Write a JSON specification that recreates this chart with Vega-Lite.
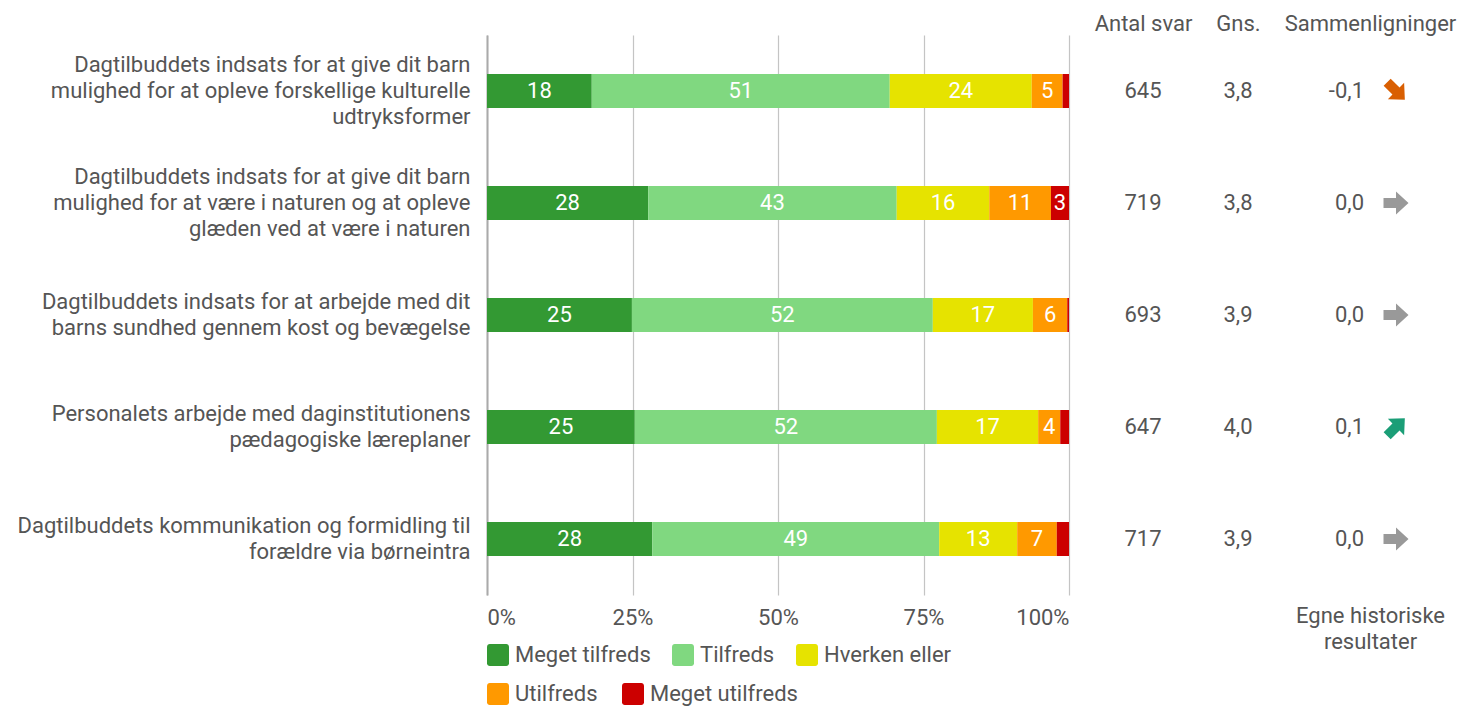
{
  "$schema": "https://vega.github.io/schema/vega-lite/v6.json",
  "padding": {"left": 5, "top": 12, "right": 5, "bottom": 5},
  "background": "white",
  "config": {
    "font": "Roboto",
    "view": {"stroke": null},
    "locale": {"number": {"decimal": ",", "thousands": ".", "grouping": [3], "currency": ["", " kr."], "minus": "-"}}
  },
  "datasets": {
    "bars": [
      {"item": "Dagtilbuddets indsats for at give dit barn|mulighed for at opleve forskellige kulturelle|udtryksformer", "cat": "Meget tilfreds", "rank": 1, "value": 18.0},
      {"item": "Dagtilbuddets indsats for at give dit barn|mulighed for at opleve forskellige kulturelle|udtryksformer", "cat": "Tilfreds", "rank": 2, "value": 51.2},
      {"item": "Dagtilbuddets indsats for at give dit barn|mulighed for at opleve forskellige kulturelle|udtryksformer", "cat": "Hverken eller", "rank": 3, "value": 24.4},
      {"item": "Dagtilbuddets indsats for at give dit barn|mulighed for at opleve forskellige kulturelle|udtryksformer", "cat": "Utilfreds", "rank": 4, "value": 5.3},
      {"item": "Dagtilbuddets indsats for at give dit barn|mulighed for at opleve forskellige kulturelle|udtryksformer", "cat": "Meget utilfreds", "rank": 5, "value": 1.1},
      {"item": "Dagtilbuddets indsats for at give dit barn|mulighed for at være i naturen og at opleve|glæden ved at være i naturen", "cat": "Meget tilfreds", "rank": 1, "value": 27.7},
      {"item": "Dagtilbuddets indsats for at give dit barn|mulighed for at være i naturen og at opleve|glæden ved at være i naturen", "cat": "Tilfreds", "rank": 2, "value": 42.7},
      {"item": "Dagtilbuddets indsats for at give dit barn|mulighed for at være i naturen og at opleve|glæden ved at være i naturen", "cat": "Hverken eller", "rank": 3, "value": 15.9},
      {"item": "Dagtilbuddets indsats for at give dit barn|mulighed for at være i naturen og at opleve|glæden ved at være i naturen", "cat": "Utilfreds", "rank": 4, "value": 10.6},
      {"item": "Dagtilbuddets indsats for at give dit barn|mulighed for at være i naturen og at opleve|glæden ved at være i naturen", "cat": "Meget utilfreds", "rank": 5, "value": 3.1},
      {"item": "Dagtilbuddets indsats for at arbejde med dit|barns sundhed gennem kost og bevægelse", "cat": "Meget tilfreds", "rank": 1, "value": 24.9},
      {"item": "Dagtilbuddets indsats for at arbejde med dit|barns sundhed gennem kost og bevægelse", "cat": "Tilfreds", "rank": 2, "value": 51.7},
      {"item": "Dagtilbuddets indsats for at arbejde med dit|barns sundhed gennem kost og bevægelse", "cat": "Hverken eller", "rank": 3, "value": 17.2},
      {"item": "Dagtilbuddets indsats for at arbejde med dit|barns sundhed gennem kost og bevægelse", "cat": "Utilfreds", "rank": 4, "value": 5.9},
      {"item": "Dagtilbuddets indsats for at arbejde med dit|barns sundhed gennem kost og bevægelse", "cat": "Meget utilfreds", "rank": 5, "value": 0.3},
      {"item": "Personalets arbejde med daginstitutionens|pædagogiske læreplaner", "cat": "Meget tilfreds", "rank": 1, "value": 25.4},
      {"item": "Personalets arbejde med daginstitutionens|pædagogiske læreplaner", "cat": "Tilfreds", "rank": 2, "value": 51.9},
      {"item": "Personalets arbejde med daginstitutionens|pædagogiske læreplaner", "cat": "Hverken eller", "rank": 3, "value": 17.4},
      {"item": "Personalets arbejde med daginstitutionens|pædagogiske læreplaner", "cat": "Utilfreds", "rank": 4, "value": 3.8},
      {"item": "Personalets arbejde med daginstitutionens|pædagogiske læreplaner", "cat": "Meget utilfreds", "rank": 5, "value": 1.5},
      {"item": "Dagtilbuddets kommunikation og formidling til|forældre via børneintra", "cat": "Meget tilfreds", "rank": 1, "value": 28.4},
      {"item": "Dagtilbuddets kommunikation og formidling til|forældre via børneintra", "cat": "Tilfreds", "rank": 2, "value": 49.3},
      {"item": "Dagtilbuddets kommunikation og formidling til|forældre via børneintra", "cat": "Hverken eller", "rank": 3, "value": 13.4},
      {"item": "Dagtilbuddets kommunikation og formidling til|forældre via børneintra", "cat": "Utilfreds", "rank": 4, "value": 6.8},
      {"item": "Dagtilbuddets kommunikation og formidling til|forældre via børneintra", "cat": "Meget utilfreds", "rank": 5, "value": 2.1}
    ],
    "stats": [
      {"item": "Dagtilbuddets indsats for at give dit barn|mulighed for at opleve forskellige kulturelle|udtryksformer", "n": 645, "mean": 3.8, "change": -0.1, "trend": "ned"},
      {"item": "Dagtilbuddets indsats for at give dit barn|mulighed for at være i naturen og at opleve|glæden ved at være i naturen", "n": 719, "mean": 3.8, "change": 0.0, "trend": "uændret"},
      {"item": "Dagtilbuddets indsats for at arbejde med dit|barns sundhed gennem kost og bevægelse", "n": 693, "mean": 3.9, "change": 0.0, "trend": "uændret"},
      {"item": "Personalets arbejde med daginstitutionens|pædagogiske læreplaner", "n": 647, "mean": 4.0, "change": 0.1, "trend": "op"},
      {"item": "Dagtilbuddets kommunikation og formidling til|forældre via børneintra", "n": 717, "mean": 3.9, "change": 0.0, "trend": "uændret"}
    ]
  },
  "bounds": "flush",
  "spacing": 0,
  "resolve": {"scale": {"color": "independent", "x": "independent"}},
  "hconcat": [
    {
      "width": 582,
      "height": 560,
      "data": {"name": "bars"},
      "transform": [
        {"stack": "value", "groupby": ["item"], "sort": [{"field": "rank", "order": "ascending"}], "as": ["v0", "v1"]}
      ],
      "encoding": {
        "y": {
          "field": "item", "type": "nominal", "sort": null, "title": null,
          "scale": {"paddingInner": 0.696, "paddingOuter": 0.348},
          "axis": {
            "labelExpr": "split(datum.label, '|')",
            "labelFontSize": 22, "labelLineHeight": 26, "labelColor": "#555555",
            "labelOffset": {"condition": {"test": "length(split(datum.value, '|')) > 2", "value": -26}, "value": -13},
            "labelPadding": 17, "labelLimit": 700, "ticks": false,
            "domain": true, "domainColor": "#aaaaaa", "domainWidth": 2,
            "minExtent": 482, "maxExtent": 482, "grid": false
          }
        }
      },
      "resolve": {"scale": {"color": "independent"}},
      "layer": [
        {
          "transform": [{"filter": "datum.rank <= 3"}],
          "mark": {"type": "bar"},
          "encoding": {
            "x": {
              "field": "v0", "type": "quantitative",
              "scale": {"domain": [0, 100]},
              "title": null,
              "axis": {
                "values": [0, 25, 50, 75, 100], "labelExpr": "datum.value + '%'",
                "labelFontSize": 22, "labelColor": "#555555", "labelPadding": 12,
                "ticks": false, "domain": false, "grid": true, "gridColor": "#c4c4c4", "gridWidth": 1.2
              }
            },
            "x2": {"field": "v1"},
            "color": {
              "field": "cat", "type": "nominal", "title": null,
              "scale": {
                "domain": ["Meget tilfreds", "Tilfreds", "Hverken eller"],
                "range": ["#339933", "#80d880", "#e6e300"]
              },
              "legend": {
                "orient": "none", "legendX": 0, "legendY": 609, "direction": "horizontal",
                "symbolType": "M-0.75,-1H0.75A0.25,0.25,0,0,1,1,-0.75V0.75A0.25,0.25,0,0,1,0.75,1H-0.75A0.25,0.25,0,0,1,-1,0.75V-0.75A0.25,0.25,0,0,1,-0.75,-1Z",
                "symbolSize": 484, "symbolStrokeWidth": 0, "symbolOpacity": 1,
                "labelFontSize": 22, "labelColor": "#555555", "labelOffset": 6, "labelLimit": 300,
                "columnPadding": 21, "padding": 0
              }
            }
          }
        },
        {
          "transform": [{"filter": "datum.rank >= 4"}],
          "mark": {"type": "bar"},
          "encoding": {
            "x": {"field": "v0", "type": "quantitative"},
            "x2": {"field": "v1"},
            "color": {
              "field": "cat", "type": "nominal", "title": null,
              "scale": {
                "domain": ["Utilfreds", "Meget utilfreds"],
                "range": ["#ff9900", "#cc0000"]
              },
              "legend": {
                "orient": "none", "legendX": 0, "legendY": 648, "direction": "horizontal",
                "symbolType": "M-0.75,-1H0.75A0.25,0.25,0,0,1,1,-0.75V0.75A0.25,0.25,0,0,1,0.75,1H-0.75A0.25,0.25,0,0,1,-1,0.75V-0.75A0.25,0.25,0,0,1,-0.75,-1Z",
                "symbolSize": 484, "symbolStrokeWidth": 0, "symbolOpacity": 1,
                "labelFontSize": 22, "labelColor": "#555555", "labelOffset": 6, "labelLimit": 300,
                "columnPadding": 24, "padding": 0
              }
            }
          }
        },
        {
          "transform": [{"filter": "datum.value >= 2.5"}],
          "mark": {"type": "text", "color": "white", "fontSize": 22, "baseline": "middle"},
          "encoding": {
            "x": {"field": "value", "type": "quantitative", "stack": "zero", "bandPosition": 0.5},
            "order": {"field": "rank", "type": "quantitative"},
            "text": {"field": "value", "type": "quantitative", "format": ".0f"}
          }
        }
      ]
    },
    {
      "width": 243,
      "height": 560,
      "data": {"name": "stats"},
      "encoding": {
        "y": {"field": "item", "type": "nominal", "sort": null, "axis": null,
              "scale": {"paddingInner": 0.696, "paddingOuter": 0.348}}
      },
      "layer": [
        {
          "mark": {"type": "text", "fontSize": 22, "color": "#555555", "baseline": "middle"},
          "encoding": {
            "x": {
              "datum": "Antal svar", "type": "nominal", "title": null,
              "scale": {"type": "point", "domain": ["Antal svar", "Gns."], "padding": 0.779},
              "axis": {"orient": "top", "labelFontSize": 22, "labelColor": "#555555", "labelPadding": 0,
                       "ticks": false, "domain": false, "grid": false, "labelAngle": 0}
            },
            "text": {"field": "n", "type": "quantitative", "format": "d"}
          }
        },
        {
          "mark": {"type": "text", "fontSize": 22, "color": "#555555", "baseline": "middle"},
          "encoding": {
            "x": {"datum": "Gns.", "type": "nominal"},
            "text": {"field": "mean", "type": "quantitative", "format": ".1f"}
          }
        }
      ]
    },
    {
      "width": 116,
      "height": 560,
      "data": {"name": "stats"},
      "encoding": {
        "y": {"field": "item", "type": "nominal", "sort": null, "axis": null,
              "scale": {"paddingInner": 0.696, "paddingOuter": 0.348}}
      },
      "resolve": {"axis": {"x": "independent"}},
      "layer": [
        {
          "mark": {"type": "text", "fontSize": 22, "color": "#555555", "baseline": "middle", "align": "right", "dx": -6},
          "encoding": {
            "x": {
              "datum": "Sammenligninger", "type": "nominal", "title": null,
              "scale": {"type": "point", "domain": ["Sammenligninger"], "padding": 0.5},
              "axis": {"orient": "top", "labelFontSize": 22, "labelColor": "#555555", "labelPadding": 0,
                       "ticks": false, "domain": false, "grid": false, "labelAngle": 0, "labelLimit": 400}
            },
            "text": {"field": "change", "type": "quantitative", "format": ".1f"}
          }
        },
        {
          "mark": {"type": "point", "filled": true, "opacity": 1, "xOffset": 26,
                   "shape": "M-1,-0.4L0,-0.4L0,-0.92L1,0L0,0.92L0,0.4L-1,0.4Z", "size": 625},
          "encoding": {
            "x": {
              "datum": "Sammenligninger", "type": "nominal",
              "axis": {"orient": "bottom", "labels": false, "ticks": false, "domain": false, "grid": false,
                       "title": ["Egne historiske", "resultater"], "titleFontSize": 22, "titleFontWeight": "normal",
                       "titleColor": "#555555", "titlePadding": 10, "titleLineHeight": 26}
            },
            "angle": {"field": "change", "type": "quantitative", "scale": {"domain": [-0.1, 0.1], "range": [45, -45]}},
            "color": {"field": "trend", "type": "nominal", "legend": null,
                      "scale": {"domain": ["ned", "uændret", "op"], "range": ["#d95f02", "#999999", "#1b9e77"]}}
          }
        }
      ]
    }
  ]
}
